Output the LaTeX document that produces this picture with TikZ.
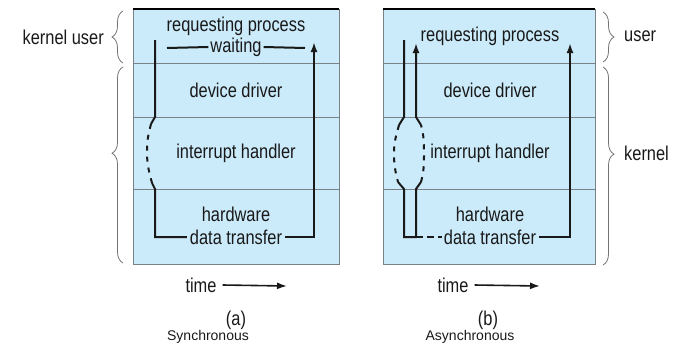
\documentclass[tikz,border=0pt]{standalone}
\usepackage{fontspec}
\setmainfont{Liberation Sans}[FakeStretch=0.82]
\newfontfamily\capfont{Liberation Sans}
\usetikzlibrary{arrows.meta,decorations.pathreplacing}
\definecolor{boxblue}{RGB}{204,235,250}
\definecolor{divgray}{RGB}{120,130,135}
\tikzset{
  lbl/.style={inner sep=0pt,font=\fontsize{20}{22}\selectfont,text=black!90},
  captext/.style={inner sep=0pt,font=\capfont\fontsize{14}{16}\selectfont,text=black!90},
  flow/.style={line width=2pt,black!90},
  dsh/.style={flow,dash pattern=on 5pt off 6pt},
  arr/.style={-{Latex[length=10pt,width=7pt]}},
  brc/.style={draw=black!55,line width=0.8pt,decorate,decoration={brace,amplitude=11pt}},
  layer/.style={draw=divgray,line width=0.8pt},
  panel/.style={fill=boxblue,draw=divgray,line width=1pt}
}
\begin{document}
\begin{tikzpicture}[x=1pt,y=-1pt]
\useasboundingbox (0,0) rectangle (679,346);
% panels
\foreach \xl/\xr in {133/339,383/595}{
  \path[panel] (\xl,9) rectangle (\xr,264);
  \draw[black,line width=1.3pt] (\xl,9) -- (\xr,9);
  \foreach \yy in {63,117,189}{\draw[layer] (\xl,\yy) -- (\xr,\yy);}
}
% left panel texts
\node[lbl] (rpL) at (236,26) {requesting process};
\node[lbl] (wtL) at (236,47) {waiting};
\node[lbl] (ddL) at (236,90) {device driver};
\node[lbl] (ihL) at (236,153) {interrupt handler};
\node[lbl] (hwL) at (236,214) {hardware};
\node[lbl] (dtL) at (236,237) {data transfer};
% right panel texts
\node[lbl] (rpR) at (490,36) {requesting process};
\node[lbl] (ddR) at (490,90) {device driver};
\node[lbl] (ihR) at (490,153) {interrupt handler};
\node[lbl] (hwR) at (490,214) {hardware};
\node[lbl] (dtR) at (490,237) {data transfer};
% side labels
\node[lbl,anchor=east] (ku) at (104,37) {kernel user};
\node[lbl,anchor=west] (us) at (624,36) {user};
\node[lbl,anchor=west] (kn) at (624,153) {kernel};
% braces
\draw[brc] (123,63) -- (123,11);
\draw[brc,decoration={aspect=0.56}] (123,263) -- (123,67);
\draw[brc] (603,12) -- (603,62);
\draw[brc,decoration={aspect=0.44}] (603,67) -- (603,265);
% waiting lines
\coordinate (wa) at (167,48);
\coordinate (wb) at (305,48);
\draw[flow] (wa) -- ([xshift=-2pt]wtL.west);
\draw[flow] ([xshift=2pt]wtL.east) -- (wb);
% left (synchronous) flow
\coordinate (sL) at (155,40);
\coordinate (eL) at (314,42);
\draw[flow] (sL) -- (155,117) -- (151,124);
\draw[dsh] (151,124) to[out=-105,in=90] (147,152) to[out=-90,in=105] (152,183);
\draw[flow] (152,183) -- (155,189) -- (155,237) -- ([xshift=-3pt]dtL.west);
\draw[flow,arr] ([xshift=3pt]dtL.east) -- (314,237) -- (eL);
% right (asynchronous) flow
\coordinate (sR) at (404,40);
\coordinate (mR) at (416,43);
\coordinate (eR) at (570,43);
\draw[flow] (sR) -- (404,117) -- (399,125);
\draw[dsh] (399,125) to[out=-105,in=90] (394,153) to[out=-90,in=105] (398,182);
\draw[flow] (398,182) -- (404,189) -- (404,237) -- (416,237) -- (416,189) -- (421,182);
\draw[dsh] (421,182) to[out=75,in=-90] (424,153) to[out=90,in=-75] (421,125);
\draw[flow,arr] (421,125) -- (416,117) -- (mR);
\draw[flow,dash pattern=on 7pt off 4pt] (416,237) -- ([xshift=-2pt]dtR.west);
\draw[flow,arr] ([xshift=3pt]dtR.east) -- (570,237) -- (eR);
% time arrows
\node[lbl] (tL) at (201,285) {time};
\node[lbl] (tR) at (453,285) {time};
\coordinate (taL) at (287,286);
\coordinate (taR) at (540,286);
\draw[line width=1.6pt,black!90,-{Latex[length=10pt,width=7pt]}] ([xshift=6pt]tL.east) -- (taL);
\draw[line width=1.6pt,black!90,-{Latex[length=10pt,width=7pt]}] ([xshift=6pt]tR.east) -- (taR);
% captions
\node[lbl] (la) at (236,320) {(a)};
\node[lbl] (lb) at (488,320) {(b)};
\node[captext] (sy) at (208,337) {Synchronous};
\node[captext] (as) at (470,337) {Asynchronous};
\end{tikzpicture}
\end{document}
